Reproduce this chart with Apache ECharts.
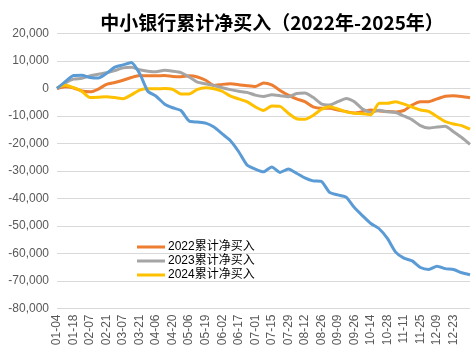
<!DOCTYPE html>
<html>
<head>
<meta charset="utf-8">
<script src="https://cdn.jsdelivr.net/npm/echarts@6/dist/echarts.min.js"></script>
<style>html,body{margin:0;padding:0;background:#fff;}#c{width:473px;height:362px;}</style>
</head>
<body>
<div id="c"></div>
<script>
const categories = ['01-04','01-11','01-18','01-25','02-07','02-14','02-21','02-28','03-07','03-14','03-21','03-28','04-06','04-13','04-20','04-27','05-06','05-12','05-19','05-26','06-02','06-09','06-17','06-24','07-01','07-08','07-15','07-22','07-29','08-05','08-12','08-19','08-26','09-02','09-09','09-16','09-26','09-30','10-14','10-21','10-28','11-04','11-11','11-18','11-25','12-02','12-09','12-16','12-23','12-27','12-31'];
const yTicks = [20000,10000,0,-10000,-20000,-30000,-40000,-50000,-60000,-70000,-80000];
const seriesNames = ['2022累计净买入','2023累计净买入','2024累计净买入','2025累计净买入'];
const s2022 = [0,600,200,-900,-1200,-200,1500,2200,3000,4000,4700,4600,4600,4700,4400,4300,4600,4200,3000,1100,1500,1700,1400,1000,700,2000,1300,-700,-2400,-3800,-4800,-6700,-7200,-7200,-7800,-8400,-8900,-8400,-7800,-8200,-8400,-8500,-8000,-6000,-4800,-4800,-3800,-2800,-2600,-2900,-3400];
const s2023 = [0,2000,3400,3700,4600,5200,5700,6500,7500,7700,6800,6300,6100,6600,6300,5800,4200,2300,1700,1100,300,-400,-1000,-1400,-2400,-2900,-2300,-2600,-3000,-1800,-1600,-3200,-5600,-6000,-4800,-3600,-4800,-7500,-8700,-7900,-8500,-8700,-10000,-11400,-13500,-14400,-14000,-13700,-15700,-17800,-20300];
const s2024 = [300,1200,300,-1000,-3300,-3200,-3000,-3300,-3700,-2300,-600,-100,-100,0,-300,-2000,-2000,-300,300,-100,-1000,-2800,-3800,-4800,-6700,-8000,-6400,-6500,-9000,-11000,-11200,-9800,-7600,-6600,-7400,-8500,-9000,-9200,-9500,-5400,-5400,-4800,-5700,-6800,-7800,-8300,-10200,-12000,-12900,-13500,-14800];
const s2025 = [0,2500,4700,4800,4000,3800,5500,7800,8600,9500,5500,-1000,-2800,-5600,-7000,-8000,-11800,-12200,-12600,-14000,-16500,-19000,-23000,-27800,-29300,-30300,-28500,-30500,-29300,-30800,-32500,-33600,-33800,-37800,-38700,-39500,-43300,-46300,-49100,-51000,-54500,-59500,-61700,-62700,-65100,-65800,-64600,-65500,-65800,-67000,-67700];
const colors = ['#ED7D31','#A5A5A5','#FFC000','#5B9BD5'];
const values = [s2022, s2023, s2024, s2025];

const chart = echarts.init(document.getElementById('c'));
chart.setOption({
  animation: false,
  backgroundColor: '#fff',
  title: {
    text: '中小银行累计净买入（2022年-2025年）',
    left: 267, top: 8, textAlign: 'center',
    textStyle: {fontSize: 19, fontWeight: 'bold', color: '#000', fontFamily: 'Noto Sans CJK SC'}
  },
  legend: {
    data: seriesNames.slice(0, 3),
    orient: 'vertical',
    left: 137, top: 240, padding: 0,
    itemWidth: 28, itemHeight: 14, itemGap: 0,
    icon: 'path://M0,6 L28,6 L28,9 L0,9 Z',
    textStyle: {fontSize: 12, lineHeight: 14, height: 14, color: '#000', fontFamily: 'Liberation Sans, Noto Sans CJK SC', padding: [0,0,0,-2]}
  },
  grid: {left: 57, right: 3, top: 33.5, bottom: 53.5, containLabel: false},
  xAxis: {
    type: 'category',
    data: categories,
    boundaryGap: false,
    axisLine: {lineStyle: {color: '#d9d9d9'}},
    axisTick: {show: false},
    axisLabel: {
      rotate: 90,
      interval: function (i) { return i % 2 === 0 && i < 50; },
      color: '#595959', fontSize: 12, fontFamily: 'Liberation Sans', margin: 6
    }
  },
  yAxis: {
    type: 'value',
    min: -80000, max: 20000, interval: 10000,
    axisLine: {show: false},
    axisTick: {show: false},
    splitLine: {lineStyle: {color: '#d9d9d9', width: 1}},
    axisLabel: {
      color: '#595959', fontSize: 12, fontFamily: 'Liberation Sans', margin: 8,
      formatter: function (v) { return v.toLocaleString('en-US'); }
    }
  },
  series: values.map(function (d, k) {
    return {
      name: seriesNames[k], type: 'line', data: d,
      symbol: 'none', smooth: 0.2,
      lineStyle: {color: colors[k], width: 3},
      itemStyle: {color: colors[k]}
    };
  })
});
</script>
</body>
</html>
